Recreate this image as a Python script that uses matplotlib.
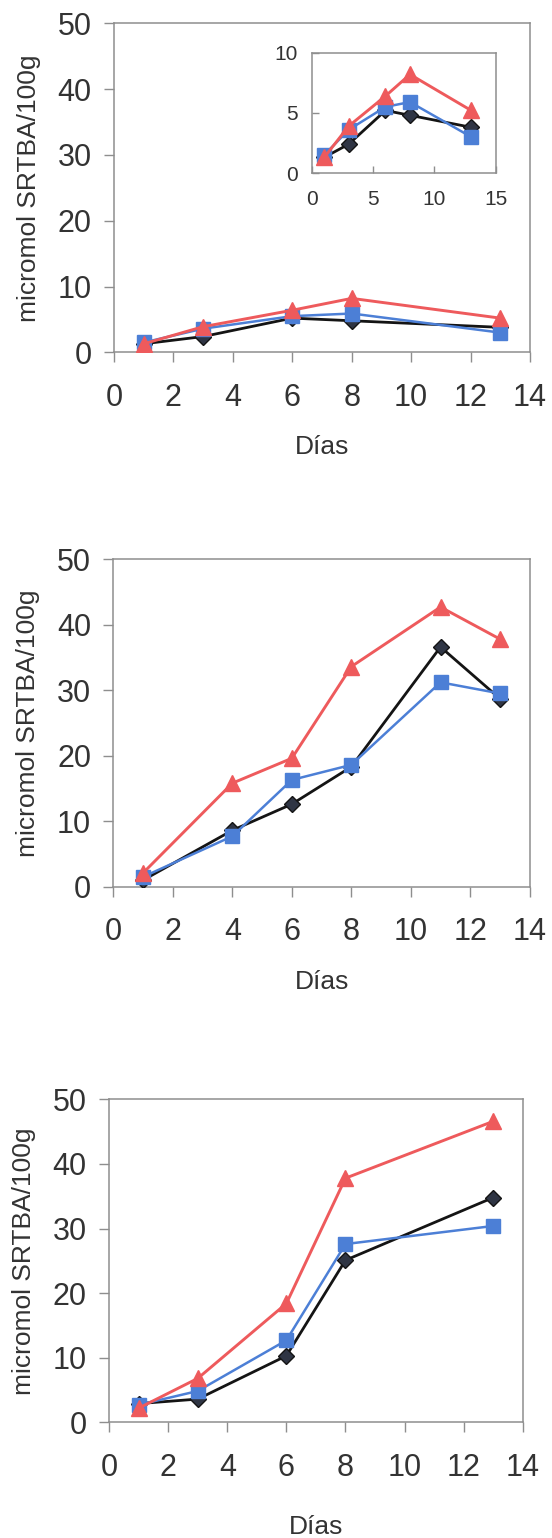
import matplotlib
matplotlib.use("Agg")
import matplotlib.pyplot as plt

plt.rcParams['font.family'] = ['Liberation Sans', 'DejaVu Sans']

# Storage days and TBARS values (micromol SRTBA/100g) for the three series
days_a = [1, 3, 6, 8, 13]
black_a = [1.3, 2.4, 5.2, 4.8, 3.8]
blue_a = [1.5, 3.6, 5.5, 5.9, 3.0]
red_a = [1.3, 3.9, 6.4, 8.2, 5.2]

days_b = [1, 4, 6, 8, 11, 13]
black_b = [1.0, 8.6, 12.6, 18.3, 36.6, 28.7]
blue_b = [1.5, 7.7, 16.3, 18.6, 31.2, 29.5]
red_b = [2.1, 15.8, 19.6, 33.6, 42.7, 37.8]

days_c = [1, 3, 6, 8, 13]
black_c = [2.9, 3.6, 10.3, 25.1, 34.8]
blue_c = [2.7, 4.85, 12.7, 27.6, 30.4]
red_c = [2.2, 6.8, 18.4, 37.8, 46.6]

x_ticks = [0, 2, 4, 6, 8, 10, 12, 14]
y_ticks = [0, 10, 20, 30, 40, 50]
inset_x_ticks = [0, 5, 10, 15]
inset_y_ticks = [0, 5, 10]

ylabel_text = "micromol SRTBA/100g"
xlabel_text = "Días"

RED = "#EE5A5C"
BLUE = "#4C7FD6"
BLACK = "#141414"
DIAMOND_FACE = "#2F3544"
FRAME = "#8E8E8E"
TEXT = "#333333"


def draw_series(ax, x, k, b, r, ms_scale=1.0):
    ax.plot(x, k, color=BLACK, lw=2.0, marker="D", ms=8 * ms_scale,
            mfc=DIAMOND_FACE, mec=BLACK, mew=1.0, zorder=3)
    ax.plot(x, b, color=BLUE, lw=1.8, marker="s", ms=10 * ms_scale,
            mfc=BLUE, mec=BLUE, zorder=4)
    ax.plot(x, r, color=RED, lw=2.1, marker="^", ms=11.5 * ms_scale,
            mfc=RED, mec=RED, zorder=5)


def style_main(ax, label_y):
    ax.set_xlim(0, 14)
    ax.set_ylim(0, 50)
    ax.set_xticks(x_ticks)
    ax.set_yticks(y_ticks)
    for s in ax.spines.values():
        s.set_color(FRAME)
        s.set_linewidth(1.1)
    ax.tick_params(axis="both", direction="out", length=7, width=1.0,
                   color=FRAME, labelcolor=TEXT, labelsize=22)
    ax.tick_params(axis="x", pad=15)
    ax.tick_params(axis="y", pad=9)
    ax.set_ylabel(ylabel_text, fontsize=19, color=TEXT)
    ax.yaxis.set_label_coords(-0.205, 0.5)
    ax.yaxis.label.set_va("center")
    ax.set_xlabel(xlabel_text, fontsize=19, color=TEXT)
    ax.xaxis.set_label_coords(0.5, label_y)
    ax.xaxis.label.set_va("center")


fig = plt.figure(figsize=(5.52, 15.38), dpi=100)

ax1 = fig.add_axes([0.2065, 0.7709, 0.7536, 0.2140])
draw_series(ax1, days_a, black_a, blue_a, red_a)
style_main(ax1, -0.289)

ins = fig.add_axes([0.5652, 0.8875, 0.3328, 0.0782])
draw_series(ins, days_a, black_a, blue_a, red_a, ms_scale=1.05)
ins.set_xlim(0, 15)
ins.set_ylim(0, 10)
ins.set_xticks(inset_x_ticks)
ins.set_yticks(inset_y_ticks)
for s in ins.spines.values():
    s.set_color(FRAME)
    s.set_linewidth(1.1)
ins.tick_params(axis="both", direction="in", length=5, width=1.0,
                color=FRAME, labelcolor=TEXT, labelsize=15)
ins.tick_params(axis="x", pad=12)
ins.tick_params(axis="y", pad=10)

ax2 = fig.add_axes([0.2054, 0.4235, 0.7543, 0.2129])
draw_series(ax2, days_b, black_b, blue_b, red_b)
style_main(ax2, -0.29)

ax3 = fig.add_axes([0.1976, 0.0752, 0.7495, 0.2100])
draw_series(ax3, days_c, black_c, blue_c, red_c)
style_main(ax3, -0.325)

fig.savefig("out.png", dpi=100, facecolor="white")
